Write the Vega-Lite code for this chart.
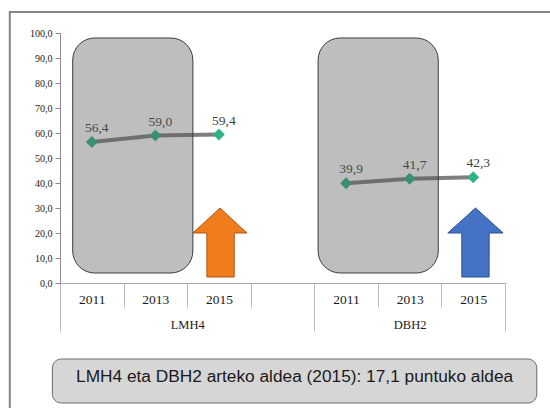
{
  "$schema": "https://vega.github.io/schema/vega-lite/v6.json",
  "width": 445,
  "height": 250,
  "autosize": {"type": "none"},
  "padding": {"left": 60, "top": 33, "right": 45, "bottom": 125},
  "background": "white",
  "config": {
    "view": {"stroke": null},
    "locale": {"number": {"decimal": ",", "thousands": ".", "grouping": [3], "currency": ["", " €"]}},
    "axis": {"labelFont": "Liberation Serif", "labelColor": "#1a1a1a", "labelFlush": false, "labelOverlap": false}
  },
  "datasets": {
    "frame": [{"x": -0.79, "x2": 7.8, "y": 108.4, "y2": -55}],
    "box": [{"x": -0.12, "x2": 7.5, "y": -30.4, "y2": -48, "xc": 3.69, "yc": -37.6, "t": "LMH4 eta DBH2 arteko aldea (2015): 17,1 puntuko aldea"}],
    "pts": [
      {"grp": "LMH4", "year": "2011", "x": 0.5, "v": 56.4},
      {"grp": "LMH4", "year": "2013", "x": 1.5, "v": 59.0},
      {"grp": "LMH4", "year": "2015", "x": 2.5, "v": 59.4},
      {"grp": "DBH2", "year": "2011", "x": 4.5, "v": 39.9},
      {"grp": "DBH2", "year": "2013", "x": 5.5, "v": 41.7},
      {"grp": "DBH2", "year": "2015", "x": 6.5, "v": 42.3}
    ],
    "shade": [
      {"grp": "LMH4", "x": 0.2, "x2": 2.09, "y": 4, "y2": 98},
      {"grp": "DBH2", "x": 4.06, "x2": 5.95, "y": 4, "y2": 98}
    ],
    "arrows": [
      {"grp": "LMH4", "x": 2.09, "top": 20, "bot": 20},
      {"grp": "LMH4", "x": 2.31, "top": 25.15, "bot": 20},
      {"grp": "LMH4", "x": 2.311, "top": 25.15, "bot": 2.4},
      {"grp": "LMH4", "x": 2.517, "top": 30, "bot": 2.4},
      {"grp": "LMH4", "x": 2.74, "top": 24.7, "bot": 2.4},
      {"grp": "LMH4", "x": 2.741, "top": 24.7, "bot": 20},
      {"grp": "LMH4", "x": 2.94, "top": 20, "bot": 20},
      {"grp": "DBH2", "x": 6.1, "top": 20, "bot": 20},
      {"grp": "DBH2", "x": 6.32, "top": 25.05, "bot": 20},
      {"grp": "DBH2", "x": 6.321, "top": 25.05, "bot": 2.4},
      {"grp": "DBH2", "x": 6.536, "top": 30, "bot": 2.4},
      {"grp": "DBH2", "x": 6.75, "top": 25.07, "bot": 2.4},
      {"grp": "DBH2", "x": 6.751, "top": 25.07, "bot": 20},
      {"grp": "DBH2", "x": 6.97, "top": 20, "bot": 20}
    ]
  },
  "resolve": {"axis": {"x": "independent", "y": "independent"}},
  "layer": [
    {
      "data": {"name": "frame"},
      "mark": {"type": "rect", "fill": "white", "fillOpacity": 0, "stroke": "#858585", "strokeWidth": 2},
      "encoding": {
        "x": {"field": "x", "type": "quantitative", "scale": {"domain": [0, 7], "nice": false, "zero": false}, "axis": null},
        "x2": {"field": "x2"},
        "y": {"field": "y", "type": "quantitative", "scale": {"domain": [0, 100], "nice": false}, "axis": null},
        "y2": {"field": "y2"}
      }
    },
    {
      "data": {"name": "box"},
      "mark": {"type": "rect", "fill": "#d6d6d6", "stroke": "#6b6b6b", "strokeWidth": 1, "cornerRadius": 9},
      "encoding": {
        "x": {"field": "x", "type": "quantitative", "scale": {"domain": [0, 7], "nice": false, "zero": false}, "axis": null},
        "x2": {"field": "x2"},
        "y": {"field": "y", "type": "quantitative", "scale": {"domain": [0, 100], "nice": false}, "axis": null},
        "y2": {"field": "y2"}
      }
    },
    {
      "data": {"name": "box"},
      "mark": {"type": "text", "font": "Liberation Sans", "fontSize": 17.3, "color": "#1a1a1a", "align": "center", "baseline": "middle"},
      "encoding": {
        "x": {"field": "xc", "type": "quantitative", "scale": {"domain": [0, 7], "nice": false, "zero": false}, "axis": null},
        "y": {"field": "yc", "type": "quantitative", "scale": {"domain": [0, 100], "nice": false}, "axis": null},
        "text": {"field": "t"}
      }
    },
    {
      "data": {"name": "pts"},
      "mark": {"type": "line", "color": "#7f7f7f", "strokeWidth": 4},
      "encoding": {
        "x": {"field": "x", "type": "quantitative", "scale": {"domain": [0, 7], "nice": false, "zero": false},
          "axis": {"orient": "bottom", "values": [0, 1, 2, 3, 4, 5, 6, 7], "labels": false, "ticks": true, "tickSize": 24, "tickColor": "#bdbdbd", "domain": true, "domainColor": "#a6a6a6", "grid": false, "title": null}},
        "y": {"field": "v", "type": "quantitative", "scale": {"domain": [0, 100], "nice": false},
          "axis": {"orient": "left", "values": [0, 10, 20, 30, 40, 50, 60, 70, 80, 90, 100], "format": ".1f", "title": null, "tickSize": 5, "tickColor": "#8c8c8c", "domainColor": "#8c8c8c", "gridColor": "#8f8f8f", "labelFontSize": 10, "labelPadding": 3}},
        "detail": {"field": "grp"}
      }
    },
    {
      "data": {"name": "pts"},
      "mark": {"type": "point", "shape": "diamond", "filled": true, "opacity": 1, "size": 140, "color": "#2db386"},
      "encoding": {
        "x": {"field": "x", "type": "quantitative", "scale": {"domain": [0, 7], "nice": false, "zero": false},
          "axis": {"orient": "bottom", "values": [0.5, 1.5, 2.5, 4.5, 5.5, 6.5], "labelExpr": "datum.value % 4 < 1 ? '2011' : datum.value % 4 < 2 ? '2013' : '2015'", "ticks": false, "tickSize": 0, "domain": false, "grid": false, "labelPadding": 9, "labelFontSize": 13.5, "title": null}},
        "y": {"field": "v", "type": "quantitative", "scale": {"domain": [0, 100], "nice": false}, "axis": null}
      }
    },
    {
      "data": {"name": "pts"},
      "mark": {"type": "text", "font": "Liberation Serif", "fontSize": 13.5, "color": "#404040", "dx": 5, "dy": -14},
      "encoding": {
        "x": {"field": "x", "type": "quantitative", "scale": {"domain": [0, 7], "nice": false, "zero": false},
          "axis": {"orient": "bottom", "values": [0, 4, 7], "labels": false, "ticks": true, "tickSize": 48, "tickColor": "#bdbdbd", "domain": false, "grid": false, "title": null}},
        "y": {"field": "v", "type": "quantitative", "scale": {"domain": [0, 100], "nice": false}, "axis": null},
        "text": {"field": "v", "type": "quantitative", "format": ".1f"}
      }
    },
    {
      "data": {"name": "shade"},
      "mark": {"type": "rect", "fill": "#555555", "fillOpacity": 0.38, "stroke": "#3c3c3c", "strokeWidth": 1, "cornerRadius": 22},
      "encoding": {
        "x": {"field": "x", "type": "quantitative", "scale": {"domain": [0, 7], "nice": false, "zero": false},
          "axis": {"orient": "bottom", "values": [2, 5.5], "labelExpr": "datum.value < 4 ? 'LMH4' : 'DBH2'", "ticks": false, "tickSize": 0, "domain": false, "grid": false, "labelPadding": 35, "labelFontSize": 12.5, "title": null}},
        "x2": {"field": "x2"},
        "y": {"field": "y", "type": "quantitative", "scale": {"domain": [0, 100], "nice": false}, "axis": null},
        "y2": {"field": "y2"}
      }
    },
    {
      "data": {"name": "arrows"},
      "mark": {"type": "area", "orient": "vertical", "strokeWidth": 1, "opacity": 1},
      "encoding": {
        "x": {"field": "x", "type": "quantitative", "scale": {"domain": [0, 7], "nice": false, "zero": false}, "axis": null},
        "y": {"field": "top", "type": "quantitative", "scale": {"domain": [0, 100], "nice": false}, "axis": null},
        "y2": {"field": "bot"},
        "detail": {"field": "grp"},
        "fill": {"field": "grp", "type": "nominal", "scale": {"domain": ["LMH4", "DBH2"], "range": ["#f07c1c", "#4472c4"]}, "legend": null},
        "stroke": {"field": "grp", "type": "nominal", "scale": {"domain": ["LMH4", "DBH2"], "range": ["#a9561a", "#2f528f"]}, "legend": null}
      }
    }
  ]
}
